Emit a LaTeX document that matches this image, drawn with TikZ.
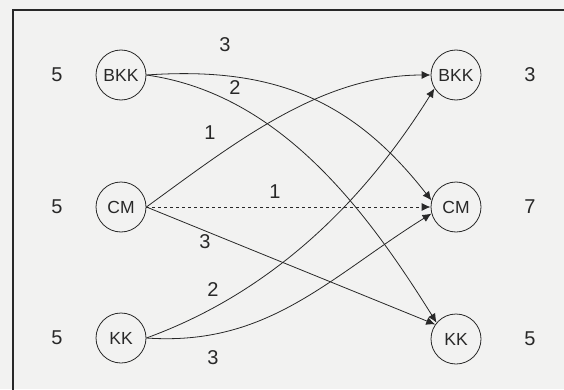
\documentclass[tikz,border=0pt]{standalone}
\usepackage{fontspec}
\setmainfont{Liberation Sans}
\usetikzlibrary{arrows.meta}
\definecolor{bgc}{RGB}{242,242,241}
\definecolor{ink}{RGB}{40,40,40}
\tikzset{
  city/.style={circle, draw=ink, line width=0.8pt, minimum size=50pt, inner sep=0pt, font=\fontsize{17.5}{20}\selectfont, text=ink},
  amount/.style={font=\fontsize{20}{24}\selectfont, text=ink, inner sep=0pt},
  flow/.style={draw=ink, line width=0.8pt, -{Latex[length=9pt,width=8pt]}},
  elabel/.style={font=\fontsize{20}{24}\selectfont, text=ink, inner sep=0pt}
}
\begin{document}
\begin{tikzpicture}[x=1pt,y=1pt]
\useasboundingbox (0,0) rectangle (564,389);
\fill[bgc] (0,0) rectangle (564,389);
\draw[ink, line width=1.5pt] (13,-20) -- (13,379) -- (600,379);

\node[city] (bl) at (121,314) {BKK};
\node[city] (cl) at (121,182) {CM};
\node[city] (kl) at (121,51) {KK};
\node[city] (br) at (456,314) {BKK};
\node[city] (cr) at (456,182) {CM};
\node[city] (kr) at (456,50) {KK};

\node[amount] (sbl) at (57,314) {5};
\node[amount] (scl) at (57,182) {5};
\node[amount] (skl) at (57,51) {5};
\node[amount] (dbr) at (530,314) {3};
\node[amount] (dcr) at (530,182) {7};
\node[amount] (dkr) at (530,50) {5};

\draw[flow] (bl.east) to[out=4,in=128,looseness=1.05] (cr.165);
\draw[flow] (bl.east) to[out=-8,in=122,looseness=0.9] (kr.140);
\draw[flow] (cl.east) to[out=36,in=180,looseness=0.9] (br.west);
\draw[flow, dashed] (cl.east) -- (cr.west);
\draw[flow] (cl.east) -- (kr.145);
\draw[flow] (kl.east) to[out=20,in=238,looseness=0.9] (br.212);
\draw[flow] (kl.east) to[out=-4,in=212,looseness=1.0] (cr.195);

\node[elabel] (l1) at (225,344) {3};
\node[elabel] (l2) at (235,301) {2};
\node[elabel] (l3) at (210,256) {1};
\node[elabel] (l4) at (275,197) {1};
\node[elabel] (l5) at (205,147) {3};
\node[elabel] (l6) at (213,99) {2};
\node[elabel] (l7) at (213,31) {3};
\end{tikzpicture}
\end{document}
